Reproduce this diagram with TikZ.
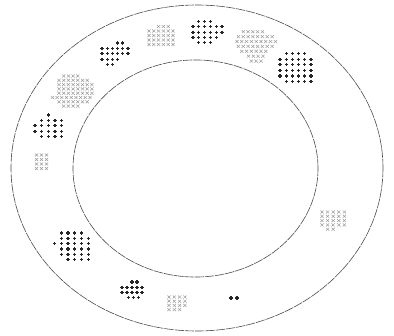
\documentclass[tikz,border=0pt]{standalone}
\tikzset{
  ring/.style={draw=black!70, line width=0.45pt, dash pattern=on 7pt off 0.7pt},
  darkmark/.style={draw=black!85, line width=0.9pt},
  lightmark/.style={draw=black!40, line width=0.35pt},
}
\newcommand\plusmark[2]{\draw[darkmark] ({#1-1.6},{#2}) -- ({#1+1.6},{#2}) ({#1},{#2-1.6}) -- ({#1},{#2+1.6});}
\newcommand\xmark[2]{\draw[lightmark] ({#1-1.6},{#2-1.5}) -- ({#1+1.6},{#2+1.5}) ({#1-1.6},{#2+1.5}) -- ({#1+1.6},{#2-1.5});}
% #1 mark macro, #2 x0, #3 y0, #4 x pitch, #5 y pitch, #6 rows (start/count)
\newcommand\markblob[6]{%
  \foreach \st/\cnt [count=\rw from 0] in {#6}{
    \foreach \cl in {1,...,\cnt}{
      \pgfmathsetmacro\xx{#2+(\st+\cl-1)*#4}
      \pgfmathsetmacro\yy{#3+\rw*#5}
      #1{\xx}{\yy}
    }
  }%
}
\begin{document}
\begin{tikzpicture}[x=0.75pt,y=-0.75pt]
\fill[white] (0,0) rectangle (394,336);
\useasboundingbox (0,0) rectangle (394,336);
% rings
\draw[ring] (197,168) ellipse [x radius=139.5pt, y radius=122.25pt];
\draw[ring] (195.5,168.5) ellipse [x radius=91.9pt, y radius=81.4pt];
% dark blobs
\markblob{\plusmark}{193}{21.5}{5.8}{5.3}{1/3, 0/6, 0/6, 0/5, 1/3}
\markblob{\plusmark}{102}{43}{5.2}{5.4}{3/2, 0/6, 0/6, 0/4, 1/2}
\markblob{\plusmark}{280}{53.5}{6.2}{5.6}{1/4, 0/6, 0/6, 0/6, 0/6, 1/5}
\markblob{\plusmark}{35}{115}{6.7}{5.4}{2/1, 1/4, 0/5, 0/5, 1/4}
\markblob{\plusmark}{54.7}{233}{6.7}{5.3}{1/4, 1/5, 0/6, 1/5, 1/5, 2/4}
\markblob{\plusmark}{122}{282}{5}{5.1}{2/2, 0/5, 0/5, 1.3/3}
\markblob{\plusmark}{231}{298}{6}{5}{0/2}
% light blobs
\markblob{\xmark}{149}{26.5}{4.8}{4.5}{2/3, 0/6, 0/6, 0/6, 0/6}
\markblob{\xmark}{237}{31.7}{4.8}{4.9}{1.3/5, 0.3/8, 0/9, 0.3/8, 1/6, 2.4/4, 3/3}
\markblob{\xmark}{59}{76}{4.7}{4.3}{1/4, 0/7, 0/8, 0/8, 0/8, -1.4/9, 0/7, 1/4}
\markblob{\xmark}{36.5}{155}{5}{4.5}{0/3, 0/3, 0/3, 0/3}
\markblob{\xmark}{169}{297}{5.3}{4.2}{0/4, 0/4, 0/4, 0/3}
\markblob{\xmark}{322}{212}{5.6}{4.3}{0/5, 0/5, 0/5, 0/5, 1/2}
\end{tikzpicture}
\end{document}
